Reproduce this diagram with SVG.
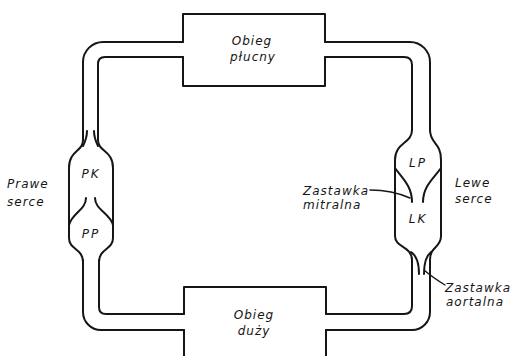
<svg xmlns="http://www.w3.org/2000/svg" width="510" height="356" viewBox="0 0 510 356">
  <style>
    .wall { fill: none; stroke: #161616; stroke-width: 2; stroke-linecap: round; stroke-linejoin: round; }
    .thin { fill: none; stroke: #161616; stroke-width: 1.4; stroke-linecap: round; }
    text { font-family: "DejaVu Sans", "Liberation Sans", sans-serif; font-style: italic; font-size: 12px; letter-spacing: 1px; fill: #161616; }
    .mid { text-anchor: middle; }
    .chamber { letter-spacing: 2px; }
  </style>
  <rect width="510" height="356" fill="#ffffff"/>

  <!-- vessels joining the hearts and the two circulations -->
  <g id="connectors">
    <!-- right ventricle to pulmonary circulation -->
    <path class="wall" d="M 83,140 V 62 A 20 20 0 0 1 103,42 H 183"/>
    <path class="wall" d="M 98,140 V 64 Q 98,57 105,57 H 183"/>
    <!-- pulmonary circulation to left atrium -->
    <path class="wall" d="M 325,42 H 410 A 20 20 0 0 1 430,62 V 130"/>
    <path class="wall" d="M 325,57 H 404 Q 412,57 412,65 V 130"/>
    <!-- left ventricle to systemic circulation -->
    <path class="wall" d="M 430,260 V 312 A 18 18 0 0 1 412,330 H 326"/>
    <path class="wall" d="M 412,260 V 306 Q 412,314 404,314 H 326"/>
    <!-- systemic circulation to right atrium -->
    <path class="wall" d="M 184,330 H 101 A 18 18 0 0 1 83,312 V 260"/>
    <path class="wall" d="M 184,314 H 106 Q 99,314 99,307 V 260"/>
  </g>

  <!-- pulmonary circulation -->
  <g id="obieg-plucny">
    <path class="wall" d="M 183,42 V 14 H 325 V 42"/>
    <path class="wall" d="M 183,57 V 86 H 325 V 57"/>
    <text class="mid" x="252" y="45">Obieg</text>
    <text class="mid" x="253" y="61">płucny</text>
  </g>

  <!-- systemic circulation -->
  <g id="obieg-duzy">
    <path class="wall" d="M 184,314 V 287 H 326 V 314"/>
    <path class="wall" d="M 184,330 V 360"/>
    <path class="wall" d="M 326,330 V 360"/>
    <text class="mid" x="254" y="319">Obieg</text>
    <text class="mid" x="254" y="335">duży</text>
  </g>

  <!-- right heart -->
  <g id="prawe-serce">
    <path class="wall" d="M 83,140 C 83,152 69,150 69,168 V 238 C 69,250 83,248 83,262"/>
    <path class="wall" d="M 98,140 C 98,152 113,150 113,168 V 238 C 113,250 99,248 99,262"/>
    <!-- pulmonary valve -->
    <path class="wall" d="M 83,146 C 85,142 87,138 87,131"/>
    <path class="wall" d="M 98,146 C 96,142 94,138 94,131"/>
    <!-- tricuspid valve -->
    <path class="wall" d="M 86,198 C 86,210 72,213 69,225"/>
    <path class="wall" d="M 95,198 C 95,210 110,213 113,225"/>
    <text class="mid chamber" x="91" y="178">PK</text>
    <text class="mid chamber" x="91" y="238">PP</text>
    <text x="7" y="188">Prawe</text>
    <text x="7" y="206">serce</text>
  </g>

  <!-- left heart -->
  <g id="lewe-serce">
    <path class="wall" d="M 412,130 C 412,144 395,142 395,160 V 236 C 395,248 412,246 412,260"/>
    <path class="wall" d="M 430,130 C 430,144 441,142 441,160 V 236 C 441,248 430,246 430,260"/>
    <!-- mitral valve -->
    <path class="wall" d="M 395,168 C 402,178 412,186 412,202"/>
    <path class="wall" d="M 441,168 C 434,178 423,186 423,202"/>
    <!-- aortic valve -->
    <path class="wall" d="M 411,252 C 417,256 419,263 419,274"/>
    <path class="wall" d="M 431,252 C 426,256 424,263 424,274"/>
    <text class="mid chamber" x="418" y="167">LP</text>
    <text class="mid chamber" x="418" y="223">LK</text>
    <text x="455" y="187">Lewe</text>
    <text x="455" y="203">serce</text>
  </g>

  <!-- valve labels -->
  <g id="zastawka-mitralna">
    <path class="thin" d="M 370,190 Q 392,190 410,198"/>
    <text x="303" y="195">Zastawka</text>
    <text x="303" y="209">mitralna</text>
  </g>
  <g id="zastawka-aortalna">
    <path class="thin" d="M 424,270 Q 432,277 445,285"/>
    <text x="445" y="292">Zastawka</text>
    <text x="446" y="306">aortalna</text>
  </g>
</svg>
